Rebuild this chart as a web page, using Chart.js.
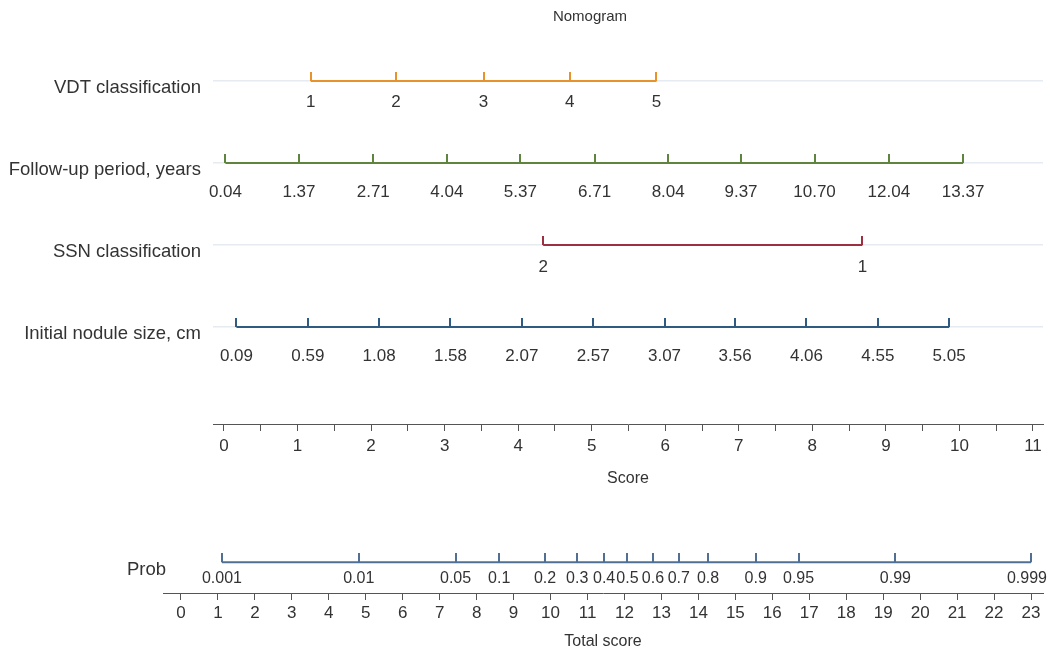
<!DOCTYPE html>
<html>
<head>
<meta charset="utf-8">
<title>Nomogram</title>
<script src="https://cdn.jsdelivr.net/npm/chart.js@4/dist/chart.umd.min.js"></script>
<style>
  body { margin: 0; background: #fff; }
  canvas { position: absolute; left: 0; }
  #top-chart { top: 0; }
  #bottom-chart { top: 490px; }
</style>
</head>
<body>
<canvas id="top-chart" width="1050" height="490"></canvas>
<canvas id="bottom-chart" width="1050" height="162"></canvas>
<script>
// rows of the nomogram (top to bottom)
const rowNames = ["VDT classification", "Follow-up period, years", "SSN classification", "Initial nodule size, cm"];

// each variable: tick labels and where they sit on the Score axis
const vdtLabels = ["1", "2", "3", "4", "5"];
const vdtScores = [1.18, 2.34, 3.53, 4.70, 5.88];

const followLabels = ["0.04", "1.37", "2.71", "4.04", "5.37", "6.71", "8.04", "9.37", "10.70", "12.04", "13.37"];
const followScores = [0.02, 1.02, 2.03, 3.03, 4.03, 5.04, 6.04, 7.03, 8.03, 9.04, 10.05];

const ssnLabels = ["2", "1"];
const ssnScores = [4.34, 8.68];

const sizeLabels = ["0.09", "0.59", "1.08", "1.58", "2.07", "2.57", "3.07", "3.56", "4.06", "4.55", "5.05"];
const sizeScores = [0.17, 1.14, 2.11, 3.08, 4.05, 5.02, 5.99, 6.95, 7.92, 8.89, 9.86];

// axes
const scoreTicks = [0, 0.5, 1, 1.5, 2, 2.5, 3, 3.5, 4, 4.5, 5, 5.5, 6, 6.5, 7, 7.5, 8, 8.5, 9, 9.5, 10, 10.5, 11];
const totalTicks = [0, 1, 2, 3, 4, 5, 6, 7, 8, 9, 10, 11, 12, 13, 14, 15, 16, 17, 18, 19, 20, 21, 22, 23];

// probability scale against Total score
const probLabels = ["0.001", "0.01", "0.05", "0.1", "0.2", "0.3", "0.4", "0.5", "0.6", "0.7", "0.8", "0.9", "0.95", "0.99", "0.999"];
const probScores = [1.11, 4.81, 7.43, 8.61, 9.85, 10.72, 11.45, 12.08, 12.77, 13.47, 14.26, 15.55, 16.71, 19.33, 23.0];

const FONT = "'Liberation Sans', Arial, Helvetica, sans-serif";
const textColor = "#333";

// little upward tick drawn as the point image (bottom half left empty)
function tickMark(color) {
  const c = document.createElement("canvas");
  c.width = 2;
  c.height = 18;
  const g = c.getContext("2d");
  g.fillStyle = color;
  g.fillRect(0, 0, 2, 9);
  return c;
}

function rowDataset(row, scores, labels, color, gap, size) {
  return {
    data: scores.map((s) => ({ x: s, y: row })),
    tickLabels: labels,
    labelGap: gap,
    labelSize: size || 17,
    showLine: true,
    borderColor: color,
    borderWidth: 2,
    pointStyle: tickMark(color),
    pointRadius: 5,
    pointHoverRadius: 5,
  };
}

// writes the value under every tick of a row (kept inside the canvas)
const tickLabelPlugin = {
  id: "tickLabels",
  afterDatasetsDraw(chart) {
    const ctx = chart.ctx;
    chart.data.datasets.forEach((ds, i) => {
      if (!ds.tickLabels) return;
      const meta = chart.getDatasetMeta(i);
      ctx.save();
      ctx.font = ds.labelSize + "px " + FONT;
      ctx.fillStyle = textColor;
      ctx.textAlign = "center";
      ctx.textBaseline = "middle";
      meta.data.forEach((pt, j) => {
        const txt = ds.tickLabels[j];
        const half = ctx.measureText(txt).width / 2;
        const x = Math.min(pt.x, chart.width - half - 3);
        ctx.fillText(txt, x, pt.y + ds.labelGap);
      });
      ctx.restore();
    });
  },
};

// chart title, centred over the plot the way the original figure has it
const titlePlugin = {
  id: "nomoTitle",
  afterDraw(chart) {
    const ctx = chart.ctx;
    ctx.save();
    ctx.font = "15px " + FONT;
    ctx.fillStyle = textColor;
    ctx.textAlign = "center";
    ctx.textBaseline = "middle";
    ctx.fillText("Nomogram", 590, 17);
    ctx.restore();
  },
};

// "Prob" name, hanging just left of the probability line
const probNamePlugin = {
  id: "probName",
  afterDraw(chart) {
    const ctx = chart.ctx;
    const y = chart.scales.y.getPixelForValue(0);
    ctx.save();
    ctx.font = "18.5px " + FONT;
    ctx.fillStyle = textColor;
    ctx.textAlign = "right";
    ctx.textBaseline = "middle";
    ctx.fillText("Prob", chart.chartArea.left + 3, y + 8);
    ctx.restore();
  },
};

const noPad = (s) => {
  s.paddingLeft = 0;
  s.paddingRight = 0;
};

new Chart(document.getElementById("top-chart"), {
  type: "scatter",
  data: {
    datasets: [
      rowDataset(0, vdtScores, vdtLabels, "#e8922c", 21),
      rowDataset(1, followScores, followLabels, "#5e8440", 29),
      rowDataset(2, ssnScores, ssnLabels, "#9a3040", 22),
      rowDataset(3, sizeScores, sizeLabels, "#2f5b82", 29),
    ],
  },
  plugins: [tickLabelPlugin, titlePlugin],
  options: {
    responsive: false,
    devicePixelRatio: 1,
    animation: false,
    layout: { padding: { left: 0, right: 5, top: 39.2, bottom: 0 } },
    plugins: {
      legend: { display: false },
      tooltip: { enabled: false },
    },
    scales: {
      x: {
        type: "linear",
        min: -0.149,
        max: 11.136,
        afterBuildTicks: (s) => { s.ticks = scoreTicks.map((v) => ({ value: v })); },
        afterFit: noPad,
        ticks: {
          autoSkip: false,
          maxRotation: 0,
          padding: 5,
          color: textColor,
          font: { family: FONT, size: 17 },
          callback: (v) => (Number.isInteger(v) ? v : ""),
        },
        grid: { drawOnChartArea: false, tickLength: 7, color: "#555" },
        border: { color: "#555" },
        title: {
          display: true,
          text: "Score",
          color: textColor,
          font: { family: FONT, size: 16 },
          padding: { top: 7.4, bottom: 2 },
        },
      },
      y: {
        type: "linear",
        reverse: true,
        min: -0.51,
        max: 4.183,
        afterBuildTicks: (s) => { s.ticks = rowNames.map((_, i) => ({ value: i })); },
        afterFit: (s) => { s.width = 213; },
        ticks: {
          padding: 12,
          labelOffset: 7,
          color: textColor,
          font: { family: FONT, size: 18.5 },
          callback: (v, i) => rowNames[i],
        },
        grid: { color: "#e6ebf1", lineWidth: 1.5, drawTicks: false },
        border: { display: false },
      },
    },
  },
});

new Chart(document.getElementById("bottom-chart"), {
  type: "scatter",
  data: {
    datasets: [rowDataset(0, probScores, probLabels, "#4f7092", 16, 16)],
  },
  plugins: [tickLabelPlugin, probNamePlugin],
  options: {
    responsive: false,
    devicePixelRatio: 1,
    animation: false,
    layout: { padding: { left: 163, right: 5, top: 20, bottom: 0 } },
    plugins: { legend: { display: false }, tooltip: { enabled: false } },
    scales: {
      x: {
        type: "linear",
        min: -0.486,
        max: 23.324,
        afterBuildTicks: (s) => { s.ticks = totalTicks.map((v) => ({ value: v })); },
        afterFit: noPad,
        ticks: {
          autoSkip: false,
          maxRotation: 0,
          padding: 3.2,
          color: textColor,
          font: { family: FONT, size: 17 },
        },
        grid: { drawOnChartArea: false, tickLength: 7, color: "#555" },
        border: { color: "#555" },
        title: {
          display: true,
          text: "Total score",
          color: textColor,
          font: { family: FONT, size: 16 },
          padding: { top: 5.6, bottom: 0.4 },
        },
      },
      y: {
        type: "linear",
        display: false,
        min: -0.37,
        max: 0.63,
      },
    },
  },
});
</script>
</body>
</html>
